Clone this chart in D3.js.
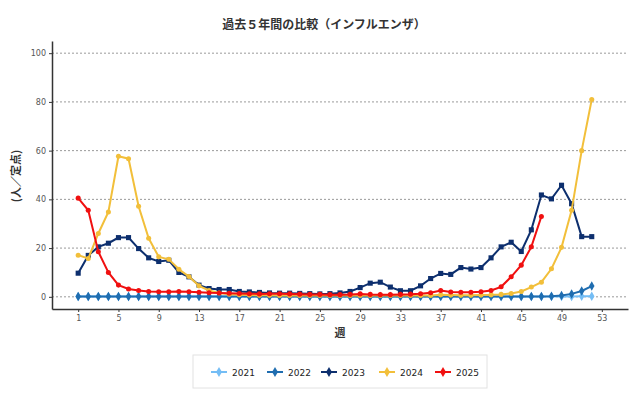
<!DOCTYPE html>
<html>
<head>
<meta charset="utf-8">
<script src="https://cdn.jsdelivr.net/npm/d3@7"></script>
<style>
  body { margin: 0; background: #fff; }
  svg { display: block; font-family: "Noto Sans CJK JP", "Noto Sans", sans-serif; }
</style>
</head>
<body>
<svg width="640" height="399"></svg>
<script>
// chart data
const years = ["2021", "2022", "2023", "2024", "2025"];
const colors = ["#74bdf5", "#1f6db0", "#0d2f6e", "#f2bf3a", "#f01010"];
const shapes = ["diamond", "diamond", "square", "circle", "circle"];

const xTicks = [1, 5, 9, 13, 17, 21, 25, 29, 33, 37, 41, 45, 49, 53];
const yTicks = [0, 20, 40, 60, 80, 100];

const v2021 = [0.1, 0.1, 0.1, 0.1, 0.1, 0.1, 0.1, 0.1, 0.1, 0.1, 0.1, 0.1, 0.1,
  0.1, 0.1, 0.1, 0.1, 0.1, 0.1, 0.1, 0.1, 0.1, 0.1, 0.1, 0.1, 0.1,
  0.1, 0.1, 0.1, 0.1, 0.1, 0.1, 0.1, 0.1, 0.1, 0.1, 0.1, 0.1, 0.1,
  0.1, 0.1, 0.1, 0.1, 0.1, 0.1, 0.1, 0.1, 0.1, 0.1, 0.1, 0.2, 0.2];
const v2022 = [0.1, 0.1, 0.1, 0.1, 0.1, 0.1, 0.1, 0.1, 0.1, 0.1, 0.1, 0.1, 0.1,
  0.1, 0.1, 0.1, 0.1, 0.1, 0.1, 0.1, 0.1, 0.1, 0.1, 0.1, 0.1, 0.1,
  0.1, 0.1, 0.1, 0.1, 0.1, 0.1, 0.1, 0.1, 0.1, 0.1, 0.1, 0.1, 0.1,
  0.1, 0.1, 0.1, 0.1, 0.1, 0.1, 0.1, 0.1, 0.2, 0.5, 1.2, 2.4, 4.4];
const v2023 = [9.7, 17, 20.5, 22, 24.3, 24.3, 19.8, 16, 14.5, 15, 10, 8.2, 4.8,
  3.4, 3.0, 3.0, 2.2, 2.0, 1.8, 1.6, 1.5, 1.5, 1.4, 1.3, 1.2, 1.3,
  1.6, 2.2, 3.8, 5.6, 6.0, 4.0, 2.5, 2.5, 4.5, 7.5, 9.6, 9.2, 12,
  11.4, 12, 16, 20.5, 22.4, 18.6, 27.5, 41.8, 40.2, 45.8, 38.2, 24.7, 24.7];
const v2024 = [17.1, 15.7, 26, 34.8, 57.7, 56.7, 37.2, 24, 16.4, 15.4, 11.3, 8.3, 4.5,
  2.6, 1.6, 1.1, 0.8, 0.7, 0.6, 0.6, 0.5, 0.5, 0.5, 0.5, 0.5, 0.5,
  0.5, 0.5, 0.5, 0.5, 0.5, 0.5, 0.5, 0.5, 0.5, 0.5, 0.8, 0.7, 0.6,
  0.6, 0.7, 0.8, 1.0, 1.4, 2.2, 4.0, 6.0, 11.5, 20.3, 35.5, 60, 81];
const v2025 = [40.5, 35.5, 18.5, 10, 4.8, 3.2, 2.6, 2.2, 2.1, 2.1, 2.2, 2.1, 1.9,
  1.7, 1.6, 1.5, 1.4, 1.3, 1.2, 1.3, 1.3, 1.2, 1.1, 1.0, 1.0, 0.9,
  0.9, 1.0, 1.2, 1.0, 0.9, 0.9, 1.0, 1.1, 1.3, 1.7, 2.6, 2.0, 1.9,
  1.9, 2.1, 2.6, 4.1, 8.2, 13, 20.5, 33];

const series = [v2021, v2022, v2023, v2024, v2025].map((vals, i) => ({
  year: years[i],
  color: colors[i],
  shape: shapes[i],
  points: vals.map((v, k) => ({ week: k + 1, value: v }))
}));

const svg = d3.select("svg");
const plotLeft = 52, plotRight = 628, plotTop = 41, plotBottom = 309;

const x = d3.scaleLinear().domain([-1.6, 55.6]).range([plotLeft, plotRight]);
const y = d3.scaleLinear().domain([-5, 105]).range([plotBottom, plotTop]);

// title
svg.append("text")
  .attr("x", 324).attr("y", 29)
  .attr("text-anchor", "middle")
  .attr("font-size", 12)
  .attr("font-weight", "bold")
  .attr("fill", "#333")
  .text("過去５年間の比較（インフルエンザ）");

// dotted gridlines
svg.append("g")
  .selectAll("line")
  .data(yTicks)
  .join("line")
  .attr("x1", plotLeft).attr("x2", plotRight)
  .attr("y1", d => y(d)).attr("y2", d => y(d))
  .attr("stroke", "#9a9a9a")
  .attr("stroke-width", 1)
  .attr("stroke-dasharray", "2,2");

// axes
const yAxis = svg.append("g")
  .attr("transform", `translate(${plotLeft},0)`)
  .call(d3.axisLeft(y).tickValues(yTicks).tickSize(3).tickSizeOuter(0).tickPadding(3));
const xAxis = svg.append("g")
  .attr("transform", `translate(0,${plotBottom})`)
  .call(d3.axisBottom(x).tickValues(xTicks).tickSize(3).tickSizeOuter(0).tickPadding(3));

[yAxis, xAxis].forEach(a => {
  a.select(".domain").attr("stroke", "#333").attr("stroke-width", 1.5);
  a.selectAll(".tick line").attr("stroke", "#333");
  a.selectAll(".tick text")
    .attr("fill", "#555")
    .attr("font-size", 8)
    .attr("font-family", "\"DejaVu Sans\", sans-serif");
});

// axis titles
svg.append("text")
  .attr("transform", "translate(20,176) rotate(-90)")
  .attr("text-anchor", "middle")
  .attr("font-size", 11)
  .attr("font-weight", "bold")
  .attr("fill", "#333")
  .text("(人／定点)");
svg.append("text")
  .attr("x", 340).attr("y", 337)
  .attr("text-anchor", "middle")
  .attr("font-size", 11)
  .attr("font-weight", "bold")
  .attr("fill", "#333")
  .text("週");

const symbolFor = s => s === "square" ? d3.symbolSquare
  : s === "diamond" ? d3.symbolDiamond : d3.symbolCircle;
const sizeFor = s => s === "square" ? 26 : s === "diamond" ? 26 : 20;

const line = d3.line().x(d => x(d.week)).y(d => y(d.value));

const plot = svg.append("g");
series.forEach(s => {
  const g = plot.append("g");
  g.append("path")
    .datum(s.points)
    .attr("fill", "none")
    .attr("stroke", s.color)
    .attr("stroke-width", 2)
    .attr("d", line);
  g.selectAll("path.pt")
    .data(s.points)
    .join("path")
    .attr("class", "pt")
    .attr("transform", d => `translate(${x(d.week)},${y(d.value)})`)
    .attr("d", d3.symbol().type(symbolFor(s.shape)).size(sizeFor(s.shape)))
    .attr("fill", s.color);
});

// legend
const legend = svg.append("g");
legend.append("rect")
  .attr("x", 193).attr("y", 355)
  .attr("width", 294).attr("height", 33)
  .attr("fill", "#fff")
  .attr("stroke", "#e2e2e2");

const legendX = [219, 275, 329, 387, 443];
series.forEach((s, i) => {
  const lg = legend.append("g").attr("transform", `translate(${legendX[i]},372)`);
  lg.append("line")
    .attr("x1", -8).attr("x2", 8)
    .attr("stroke", s.color).attr("stroke-width", 2);
  lg.append("path")
    .attr("d", d3.symbol().type(d3.symbolDiamond).size(30))
    .attr("fill", s.color);
  lg.append("text")
    .attr("x", 13).attr("y", 3.5)
    .attr("font-size", 9)
    .attr("font-family", "\"DejaVu Sans\", sans-serif")
    .attr("fill", "#222")
    .text(s.year);
});
</script>
</body>
</html>
